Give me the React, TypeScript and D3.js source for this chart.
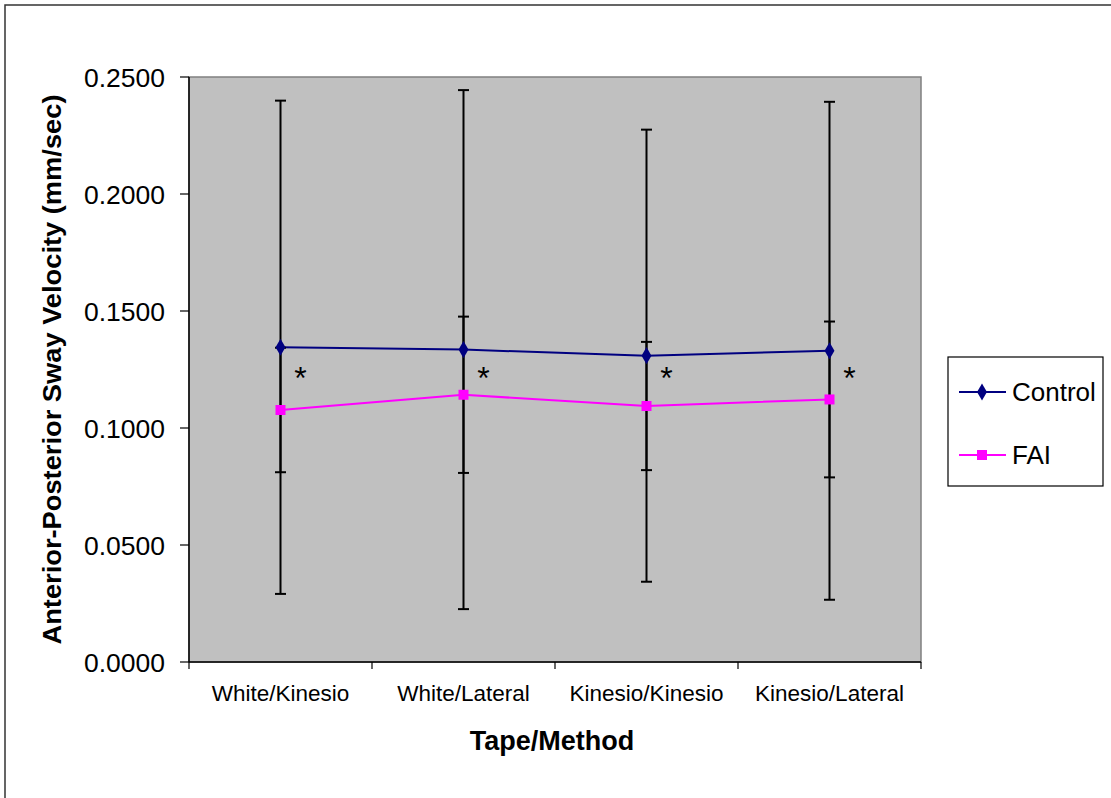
import React from "react";
import * as d3 from "d3";

// Tape/method conditions on the x axis
const categories = ["White/Kinesio", "White/Lateral", "Kinesio/Kinesio", "Kinesio/Lateral"];

// Mean anterior-posterior sway velocity (mm/sec) and standard deviations
const controlMean = [0.1345, 0.1335, 0.1309, 0.133];
const controlSD = [0.1054, 0.1109, 0.0966, 0.1064];
const faiMean = [0.1077, 0.1142, 0.1094, 0.1122];
const faiSD = [0.0266, 0.0334, 0.0274, 0.0333];

// Significance markers between groups
const significance = ["*", "*", "*", "*"];
const significanceLevel = 0.1244;

const yTicks = [0, 0.05, 0.1, 0.15, 0.2, 0.25];

const series = [
  { name: "Control", mean: controlMean, sd: controlSD, color: "#000080", marker: "diamond" },
  { name: "FAI", mean: faiMean, sd: faiSD, color: "#FF00FF", marker: "square" },
];

const W = 1111;
const H = 798;
const plot = { left: 189, right: 921, top: 77, bottom: 662 };
const FONT = "'Liberation Sans', Arial, Helvetica, sans-serif";

export default function App() {
  const x = d3
    .scaleBand<string>()
    .domain(categories)
    .range([plot.left, plot.right])
    .paddingInner(0)
    .paddingOuter(0);
  const y = d3.scaleLinear().domain([0, 0.25]).range([plot.bottom, plot.top]);
  const cx = (c: string) => (x(c) as number) + x.bandwidth() / 2;

  const line = d3
    .line<number>()
    .x((_, i) => cx(categories[i]))
    .y((v) => y(v));

  const diamond = d3.symbol(d3.symbolDiamond, 85)();
  const square = d3.symbol(d3.symbolSquare, 100)();

  const boundaries = [plot.left, ...categories.map((c) => (x(c) as number) + x.bandwidth())];
  const capHalf = 5.5;

  return (
    <svg
      width={W}
      height={H}
      style={{ position: "absolute", left: 0, top: 0, background: "#fff" }}
      fontFamily={FONT}
    >
      {/* chart frame */}
      <rect x={5} y={5} width={W + 10} height={H + 10} fill="#fff" stroke="#333" strokeWidth={1.5} />

      {/* plot area */}
      <rect
        x={plot.left}
        y={plot.top}
        width={plot.right - plot.left}
        height={plot.bottom - plot.top}
        fill="#C0C0C0"
        stroke="#808080"
        strokeWidth={1.5}
      />

      {/* y axis */}
      <line x1={plot.left} x2={plot.left} y1={plot.top} y2={plot.bottom} stroke="#000" strokeWidth={1.5} />
      {yTicks.map((t) => (
        <g key={t}>
          <line x1={plot.left - 9} x2={plot.left} y1={y(t)} y2={y(t)} stroke="#000" strokeWidth={1.2} />
          <text x={165} y={y(t)} dy="0.36em" textAnchor="end" fontSize={26.5} fill="#000">
            {d3.format(".4f")(t)}
          </text>
        </g>
      ))}

      {/* x axis */}
      <line x1={plot.left} x2={plot.right} y1={plot.bottom} y2={plot.bottom} stroke="#000" strokeWidth={1.5} />
      {boundaries.map((b, i) => (
        <line key={i} x1={b} x2={b} y1={plot.bottom} y2={plot.bottom + 7} stroke="#000" strokeWidth={1.2} />
      ))}
      {categories.map((c) => (
        <text key={c} x={cx(c)} y={701} textAnchor="middle" fontSize={22.5} fill="#000">
          {c}
        </text>
      ))}

      {/* axis titles */}
      <text x={552} y={750} textAnchor="middle" fontSize={27} fontWeight="bold" fill="#000">
        Tape/Method
      </text>
      <text
        transform={`translate(61, ${(plot.top + plot.bottom) / 2}) rotate(-90)`}
        textAnchor="middle"
        fontSize={25}
        fontWeight="bold"
        fill="#000"
        textLength={550}
        lengthAdjust="spacingAndGlyphs"
      >
        Anterior-Posterior Sway Velocity (mm/sec)
      </text>

      {/* series lines */}
      {series.map((s) => (
        <path key={s.name} d={line(s.mean) as string} fill="none" stroke={s.color} strokeWidth={2} />
      ))}

      {/* error bars (±SD) */}
      {series.map((s) =>
        s.mean.map((m, i) => {
          const px = cx(categories[i]);
          const hi = y(m + s.sd[i]);
          const lo = y(m - s.sd[i]);
          return (
            <g key={s.name + i} stroke="#000" strokeWidth={2}>
              <line x1={px} x2={px} y1={hi} y2={lo} />
              <line x1={px - capHalf} x2={px + capHalf} y1={hi} y2={hi} />
              <line x1={px - capHalf} x2={px + capHalf} y1={lo} y2={lo} />
            </g>
          );
        })
      )}

      {/* markers */}
      {series.map((s) =>
        s.mean.map((m, i) => (
          <path
            key={s.name + "m" + i}
            d={(s.marker === "diamond" ? diamond : square) as string}
            transform={`translate(${cx(categories[i])}, ${y(m)})`}
            fill={s.color}
          />
        ))
      )}

      {/* significance asterisks */}
      {significance.map((a, i) => (
        <text
          key={"sig" + i}
          x={cx(categories[i]) + 20}
          y={y(significanceLevel)}
          dy="0.57em"
          textAnchor="middle"
          fontSize={32}
          fill="#000"
        >
          {a}
        </text>
      ))}

      {/* legend */}
      <rect x={948} y={357} width={155} height={129} fill="#fff" stroke="#000" strokeWidth={1.2} />
      {series.map((s, i) => {
        const ly = 392 + i * 63;
        return (
          <g key={"leg" + s.name}>
            <line x1={959} x2={1006} y1={ly} y2={ly} stroke={s.color} strokeWidth={2} />
            <path
              d={(s.marker === "diamond" ? diamond : square) as string}
              transform={`translate(982, ${ly})`}
              fill={s.color}
            />
            <text x={1012} y={ly} dy="0.36em" fontSize={26} fill="#000">
              {s.name}
            </text>
          </g>
        );
      })}
    </svg>
  );
}
